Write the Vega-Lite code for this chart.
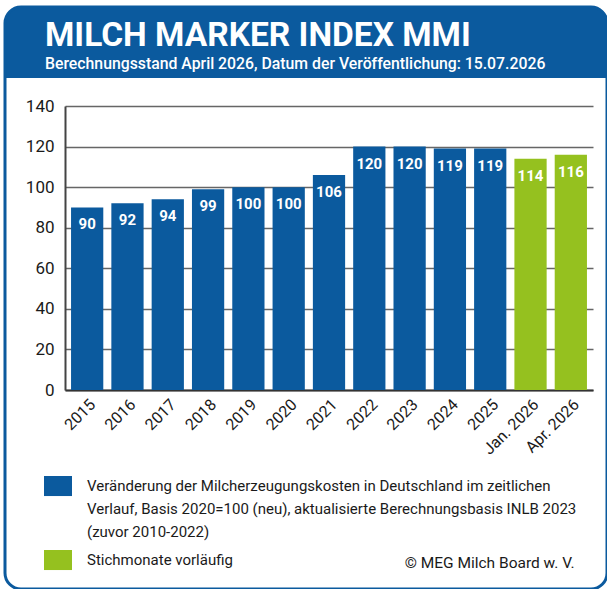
{
  "$schema": "https://vega.github.io/schema/vega-lite/v6.json",
  "autosize": "none",
  "padding": {"left": 5, "top": 7, "right": 0, "bottom": 0},
  "background": "white",
  "width": 602,
  "height": 582,
  "config": {
    "font": "Roboto, sans-serif"
  },
  "view": {
    "fill": {
      "gradient": "linear",
      "x1": 0, "y1": 0, "x2": 0, "y2": 1,
      "stops": [
        {"offset": 0, "color": "#0b5a9e"},
        {"offset": 0.122, "color": "#0b5a9e"},
        {"offset": 0.122, "color": "#ffffff"},
        {"offset": 1, "color": "#ffffff"}
      ]
    },
    "stroke": "#0b5a9e",
    "strokeWidth": 3,
    "cornerRadius": 16
  },
  "title": {
    "text": "MILCH MARKER INDEX MMI",
    "subtitle": "Berechnungsstand April 2026, Datum der Veröffentlichung: 15.07.2026",
    "orient": "top",
    "anchor": "start",
    "frame": "group",
    "offset": -66,
    "dx": 40,
    "color": "white",
    "fontSize": 33.5,
    "fontWeight": "bold",
    "subtitleColor": "white",
    "subtitleFontSize": 15.8,
    "subtitleFontWeight": 500,
    "subtitlePadding": 4
  },
  "data": {
    "values": [
      {"period": "2015", "value": 90, "group": "Veränderung der Milcherzeugungskosten in Deutschland im zeitlichen|Verlauf, Basis 2020=100 (neu), aktualisierte Berechnungsbasis INLB 2023|(zuvor 2010-2022)"},
      {"period": "2016", "value": 92, "group": "Veränderung der Milcherzeugungskosten in Deutschland im zeitlichen|Verlauf, Basis 2020=100 (neu), aktualisierte Berechnungsbasis INLB 2023|(zuvor 2010-2022)"},
      {"period": "2017", "value": 94, "group": "Veränderung der Milcherzeugungskosten in Deutschland im zeitlichen|Verlauf, Basis 2020=100 (neu), aktualisierte Berechnungsbasis INLB 2023|(zuvor 2010-2022)"},
      {"period": "2018", "value": 99, "group": "Veränderung der Milcherzeugungskosten in Deutschland im zeitlichen|Verlauf, Basis 2020=100 (neu), aktualisierte Berechnungsbasis INLB 2023|(zuvor 2010-2022)"},
      {"period": "2019", "value": 100, "group": "Veränderung der Milcherzeugungskosten in Deutschland im zeitlichen|Verlauf, Basis 2020=100 (neu), aktualisierte Berechnungsbasis INLB 2023|(zuvor 2010-2022)"},
      {"period": "2020", "value": 100, "group": "Veränderung der Milcherzeugungskosten in Deutschland im zeitlichen|Verlauf, Basis 2020=100 (neu), aktualisierte Berechnungsbasis INLB 2023|(zuvor 2010-2022)"},
      {"period": "2021", "value": 106, "group": "Veränderung der Milcherzeugungskosten in Deutschland im zeitlichen|Verlauf, Basis 2020=100 (neu), aktualisierte Berechnungsbasis INLB 2023|(zuvor 2010-2022)"},
      {"period": "2022", "value": 120, "group": "Veränderung der Milcherzeugungskosten in Deutschland im zeitlichen|Verlauf, Basis 2020=100 (neu), aktualisierte Berechnungsbasis INLB 2023|(zuvor 2010-2022)"},
      {"period": "2023", "value": 120, "group": "Veränderung der Milcherzeugungskosten in Deutschland im zeitlichen|Verlauf, Basis 2020=100 (neu), aktualisierte Berechnungsbasis INLB 2023|(zuvor 2010-2022)"},
      {"period": "2024", "value": 119, "group": "Veränderung der Milcherzeugungskosten in Deutschland im zeitlichen|Verlauf, Basis 2020=100 (neu), aktualisierte Berechnungsbasis INLB 2023|(zuvor 2010-2022)"},
      {"period": "2025", "value": 119, "group": "Veränderung der Milcherzeugungskosten in Deutschland im zeitlichen|Verlauf, Basis 2020=100 (neu), aktualisierte Berechnungsbasis INLB 2023|(zuvor 2010-2022)"},
      {"period": "Jan. 2026", "value": 114, "group": "Stichmonate vorläufig"},
      {"period": "Apr. 2026", "value": 116, "group": "Stichmonate vorläufig"}
    ]
  },
  "encoding": {
    "x": {
      "field": "period",
      "type": "nominal",
      "sort": null,
      "scale": {"range": [60, 588], "paddingInner": 0.2, "paddingOuter": 0.15},
      "axis": {
        "orient": "bottom",
        "offset": -199,
        "labelAngle": -45,
        "labelFontSize": 16,
        "labelColor": "#1a1a1a",
        "labelPadding": 6,
        "ticks": false,
        "domainColor": "#333333",
        "domainWidth": 2,
        "title": "© MEG Milch Board w. V.",
        "titleX": 569,
        "titleY": 172,
        "titleAlign": "right",
        "titleBaseline": "middle",
        "titleFontSize": 15.5,
        "titleFontWeight": "normal",
        "titleColor": "#1a1a1a"
      }
    },
    "y": {
      "field": "value",
      "type": "quantitative",
      "scale": {"domain": [0, 140], "range": [383, 99], "nice": false},
      "axis": {
        "title": null,
        "offset": -60,
        "values": [0, 20, 40, 60, 80, 100, 120, 140],
        "labelFontSize": 17,
        "labelColor": "#1a1a1a",
        "labelPadding": 11,
        "ticks": false,
        "grid": true,
        "gridColor": "#666666",
        "gridWidth": 1.5,
        "domainColor": "#444444",
        "domainWidth": 2
      }
    }
  },
  "layer": [
    {
      "mark": {"type": "bar"},
      "encoding": {
        "color": {
          "field": "group",
          "type": "nominal",
          "scale": {
            "domain": [
              "Veränderung der Milcherzeugungskosten in Deutschland im zeitlichen|Verlauf, Basis 2020=100 (neu), aktualisierte Berechnungsbasis INLB 2023|(zuvor 2010-2022)",
              "Stichmonate vorläufig"
            ],
            "range": ["#0b5a9e", "#95c11f"]
          },
          "legend": {
            "title": null,
            "orient": "none",
            "legendX": 39,
            "legendY": 470,
            "padding": 0,
            "direction": "vertical",
            "symbolType": "M-1,-1.07H1V0.36H-1Z",
            "symbolSize": 784,
            "symbolStrokeWidth": 0,
            "symbolOpacity": 1,
            "labelExpr": "split(datum.label, '|')",
            "labelFontSize": 15,
            "labelColor": "#1a1a1a",
            "labelLimit": 0,
            "labelOffset": 15,
            "labelBaseline": "alphabetic",
            "rowPadding": 10,
            "encode": {"labels": {"update": {"lineHeight": {"value": 23}}}}
          }
        }
      }
    },
    {
      "mark": {"type": "text", "color": "white", "fontWeight": "bold", "fontSize": 15, "dy": 17},
      "encoding": {"text": {"field": "value", "type": "quantitative"}}
    }
  ]
}
